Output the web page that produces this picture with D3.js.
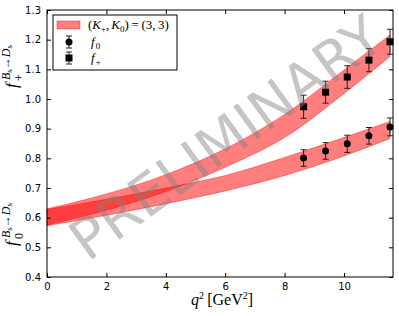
<!DOCTYPE html>
<html>
<head>
<meta charset="utf-8">
<script src="https://cdn.jsdelivr.net/npm/d3@7"></script>
<style>
  body { margin: 0; background: #fff; }
  svg { display: block; }
</style>
</head>
<body>
<div id="chart"></div>
<script>
// band (fit) values
const q2Grid = [0, 2, 4, 6, 8, 10, 11.55];
const fPlusLow = [0.575, 0.625, 0.688, 0.770, 0.870, 1.018, 1.143];
const fPlusHigh = [0.630, 0.680, 0.745, 0.832, 0.948, 1.098, 1.216];
const f0Low = [0.573, 0.608, 0.647, 0.690, 0.742, 0.808, 0.867];
const f0High = [0.628, 0.662, 0.700, 0.742, 0.803, 0.870, 0.924];

// lattice points
const q2Data = [8.64, 9.38, 10.11, 10.84, 11.55];
const f0Val = [0.801, 0.825, 0.849, 0.876, 0.906];
const f0Err = [0.028, 0.028, 0.029, 0.028, 0.030];
const fPlusVal = [0.974, 1.023, 1.074, 1.131, 1.193];
const fPlusErr = [0.039, 0.037, 0.038, 0.039, 0.042];

const xTicks = [0, 2, 4, 6, 8, 10];
const yTicks = [0.4, 0.5, 0.6, 0.7, 0.8, 0.9, 1.0, 1.1, 1.2, 1.3];

const W = 399, H = 316;
const margin = { top: 10, right: 6, bottom: 39, left: 47 },
      width = W - margin.left - margin.right,
      height = H - margin.top - margin.bottom;

const svg = d3.select("#chart").append("svg")
    .attr("width", W).attr("height", H);

const g = svg.append("g")
    .attr("transform", `translate(${margin.left},${margin.top})`);

const x = d3.scaleLinear().domain([0, 11.65]).range([0, width]);
const y = d3.scaleLinear().domain([0.4, 1.3]).range([height, 0]);

const sans = "DejaVu Sans, sans-serif";
const serif = "Liberation Serif, DejaVu Serif, serif";

// bands
function band(low, high) {
    const rows = q2Grid.map((q, i) => ({ q: q, lo: low[i], hi: high[i] }));
    const area = d3.area()
        .x(d => x(d.q)).y0(d => y(d.lo)).y1(d => y(d.hi))
        .curve(d3.curveMonotoneX);
    g.append("path")
        .datum(rows)
        .attr("d", area)
        .attr("fill", "#ff0000")
        .attr("fill-opacity", 0.5)
        .attr("stroke", "#ff0000")
        .attr("stroke-opacity", 0.5)
        .attr("stroke-width", 0.8);
}
band(f0Low, f0High);
band(fPlusLow, fPlusHigh);

// watermark
svg.append("text")
    .attr("transform", "translate(226,138) rotate(-36)")
    .attr("text-anchor", "middle")
    .attr("dominant-baseline", "central")
    .style("font-family", sans)
    .style("font-size", "56px")
    .style("fill", "#808080")
    .style("fill-opacity", 0.46)
    .text("PRELIMINARY");

// error bar points
function points(vals, errs, shape) {
    const pg = g.append("g");
    q2Data.forEach((q, i) => {
        const cx = x(q), top = y(vals[i] + errs[i]), bot = y(vals[i] - errs[i]);
        pg.append("line").attr("x1", cx).attr("x2", cx).attr("y1", top).attr("y2", bot)
            .attr("stroke", "#222").attr("stroke-width", 1);
        [top, bot].forEach(yy => pg.append("line")
            .attr("x1", cx - 3).attr("x2", cx + 3).attr("y1", yy).attr("y2", yy)
            .attr("stroke", "#222").attr("stroke-width", 1));
        if (shape === "circle") {
            pg.append("circle").attr("cx", cx).attr("cy", y(vals[i])).attr("r", 3.5).attr("fill", "#000");
        } else {
            pg.append("rect").attr("x", cx - 3.5).attr("y", y(vals[i]) - 3.5)
                .attr("width", 7).attr("height", 7).attr("fill", "#000");
        }
    });
}
points(f0Val, f0Err, "circle");
points(fPlusVal, fPlusErr, "square");

// axes, ticks inward on all sides
const tickStyle = a => {
    a.select(".domain").remove();
    a.selectAll("line").attr("stroke", "#000");
    a.selectAll("text").style("font-family", sans).style("font-size", "10px").attr("fill", "#000");
};
g.append("g").attr("transform", `translate(0,${height})`)
    .call(d3.axisBottom(x).tickValues(xTicks).tickFormat(d3.format("d")).tickSizeInner(-4).tickPadding(6))
    .call(tickStyle);
g.append("g")
    .call(d3.axisTop(x).tickValues(xTicks).tickFormat("").tickSizeInner(-4))
    .call(tickStyle);
g.append("g")
    .call(d3.axisLeft(y).tickValues(yTicks).tickFormat(d3.format(".1f")).tickSizeInner(-4).tickPadding(6))
    .call(tickStyle);
g.append("g").attr("transform", `translate(${width},0)`)
    .call(d3.axisRight(y).tickValues(yTicks).tickFormat("").tickSizeInner(-4))
    .call(tickStyle);

g.append("rect").attr("width", width).attr("height", height)
    .attr("fill", "none").attr("stroke", "#000").attr("stroke-width", 1);

// legend
const lg = g.append("g").attr("transform", "translate(6,5)");
lg.append("rect").attr("width", 124).attr("height", 55)
    .attr("fill", "#fff").attr("stroke", "#000").attr("stroke-width", 1);
lg.append("rect").attr("x", 4).attr("y", 6).attr("width", 23).attr("height", 8)
    .attr("fill", "#ff0000").attr("fill-opacity", 0.5)
    .attr("stroke", "#ff0000").attr("stroke-opacity", 0.5).attr("stroke-width", 0.8);

const lt = lg.append("text").attr("x", 35).attr("y", 14)
    .style("font-family", serif).style("font-size", "13px");
lt.append("tspan").text("(");
lt.append("tspan").style("font-style", "italic").text("K");
lt.append("tspan").attr("dy", 3).style("font-size", "9px").text("+");
lt.append("tspan").attr("dy", -3).text(",");
lt.append("tspan").attr("dx", 2).style("font-style", "italic").text("K");
lt.append("tspan").attr("dy", 3).style("font-size", "9px").text("0");
lt.append("tspan").attr("dy", -3).text(")\u2009=\u2009(3,\u20093)");

[["circle", "0", 27], ["square", "+", 43]].forEach(([shape, sub, yy]) => {
    lg.append("line").attr("x1", 16).attr("x2", 16).attr("y1", yy - 6).attr("y2", yy + 6)
        .attr("stroke", "#222");
    [yy - 6, yy + 6].forEach(v => lg.append("line").attr("x1", 13).attr("x2", 19)
        .attr("y1", v).attr("y2", v).attr("stroke", "#222"));
    if (shape === "circle") lg.append("circle").attr("cx", 16).attr("cy", yy).attr("r", 3.5);
    else lg.append("rect").attr("x", 12.5).attr("y", yy - 3.5).attr("width", 7).attr("height", 7);
    const t = lg.append("text").attr("x", 38).attr("y", yy + 4)
        .style("font-family", serif).style("font-size", "13px");
    t.append("tspan").style("font-style", "italic").text("f");
    t.append("tspan").attr("dx", 1).attr("dy", 3).style("font-size", "9px").text(sub);
});

// y label (two stacked labels)
function yLabel(py, sub) {
    const yl = svg.append("g").attr("transform", `translate(17,${py}) rotate(-90)`)
        .style("font-family", serif);
    yl.append("text").attr("x", 0).attr("y", 0).style("font-size", "17px")
        .style("font-style", "italic").text("f");
    const sup = yl.append("text").attr("x", 8).attr("y", -7).style("font-size", "12px");
    sup.append("tspan").style("font-style", "italic").text("B");
    sup.append("tspan").attr("dy", 2).style("font-size", "9px").text("s");
    sup.append("tspan").attr("dy", -2).text("\u2192");
    sup.append("tspan").style("font-style", "italic").text("D");
    sup.append("tspan").attr("dy", 2).style("font-size", "9px").text("s");
    yl.append("text").attr("x", 7).attr("y", 6).style("font-size", "12px").text(sub);
}
yLabel(88, "+");
yLabel(246, "0");

// x label
const xl = svg.append("text").attr("x", 222).attr("y", 305).attr("text-anchor", "middle")
    .style("font-family", serif).style("font-size", "16px");
xl.append("tspan").style("font-style", "italic").text("q");
xl.append("tspan").attr("dy", -6).style("font-size", "10px").text("2");
xl.append("tspan").attr("dy", 6).text("\u2009[GeV");
xl.append("tspan").attr("dy", -6).style("font-size", "10px").text("2");
xl.append("tspan").attr("dy", 6).text("]");
</script>
</body>
</html>
